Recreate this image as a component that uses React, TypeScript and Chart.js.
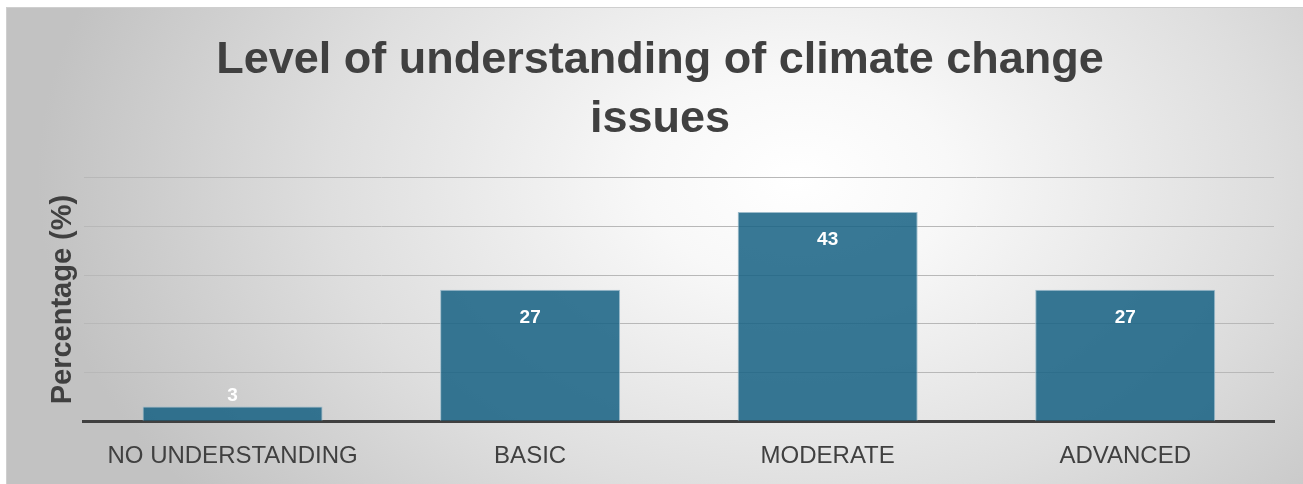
import React, { useEffect, useRef } from "react";
import { Chart, registerables } from "chart.js";

Chart.register(...registerables);

const categories = ["NO UNDERSTANDING", "BASIC", "MODERATE", "ADVANCED"];
const values = [3, 27, 43, 27];
const titleLines = ["Level of understanding of climate change", "issues"];
const yAxisTitle = "Percentage (%)";

const FONT = "'Liberation Sans', Arial, sans-serif";

const labelPlugin = {
  id: "barLabels",
  afterDatasetsDraw(chart: any) {
    const ctx = chart.ctx;
    const meta = chart.getDatasetMeta(0);
    ctx.save();
    ctx.fillStyle = "#ffffff";
    ctx.font = `bold 19px ${FONT}`;
    ctx.textAlign = "center";
    ctx.textBaseline = "middle";
    meta.data.forEach((bar: any, i: number) => {
      const h = bar.base - bar.y;
      const y = h > 40 ? bar.y + 28 : bar.y - 11;
      ctx.fillText(String(values[i]), bar.x, y);
    });
    ctx.restore();
  },
};

export default function App() {
  const ref = useRef<HTMLCanvasElement | null>(null);
  useEffect(() => {
    document.body.style.margin = "0";
    if (!ref.current) return;
    const chart = new Chart(ref.current, {
      type: "bar",
      data: {
        labels: categories,
        datasets: [
          {
            data: values,
            backgroundColor: "rgba(21, 96, 130, 0.85)",
            borderColor: "#9dbccb",
            borderWidth: 1,
            barPercentage: 0.605,
            categoryPercentage: 1,
          },
        ],
      },
      options: {
        animation: false,
        responsive: false,
        layout: { padding: { left: 39, right: 29, top: 0, bottom: 15 } },
        plugins: {
          legend: { display: false },
          tooltip: { enabled: false },
          title: {
            display: true,
            text: titleLines,
            color: "#404040",
            font: { family: FONT, size: 45, weight: "bold", lineHeight: 1.31 },
            padding: { top: 23, bottom: 29 },
          },
        },
        scales: {
          x: {
            grid: { display: false, drawTicks: false },
            border: { display: true, color: "#404040", width: 3 },
            ticks: {
              color: "#404040",
              font: { family: FONT, size: 24 },
              padding: 21,
            },
          },
          y: {
            min: 0,
            max: 50,
            ticks: { display: false, stepSize: 10 },
            grid: { color: "#b8b8b8", lineWidth: 1, drawTicks: false },
            border: { display: false },
            title: {
              display: true,
              text: yAxisTitle,
              color: "#404040",
              font: { family: FONT, size: 29, weight: "bold", lineHeight: 1.2 },
              padding: { top: 0, bottom: 3 },
            },
          },
        },
      },
      plugins: [labelPlugin],
    });
    return () => chart.destroy();
  }, []);

  return (
    <div
      style={{
        position: "absolute",
        left: 6,
        top: 7,
        width: 1297,
        height: 477,
        overflow: "hidden",
        borderTop: "1px solid #cfcfcf",
        borderLeft: "1px solid #cfcfcf",
        boxSizing: "border-box",
        background:
          "radial-gradient(ellipse 760px 520px at 61% 36%, #ffffff 0%, #f8f8f8 20%, #dedede 62%, #c2c2c2 100%)",
      }}
    >
      <canvas ref={ref} width={1296} height={499} style={{ display: "block" }} />
    </div>
  );
}
